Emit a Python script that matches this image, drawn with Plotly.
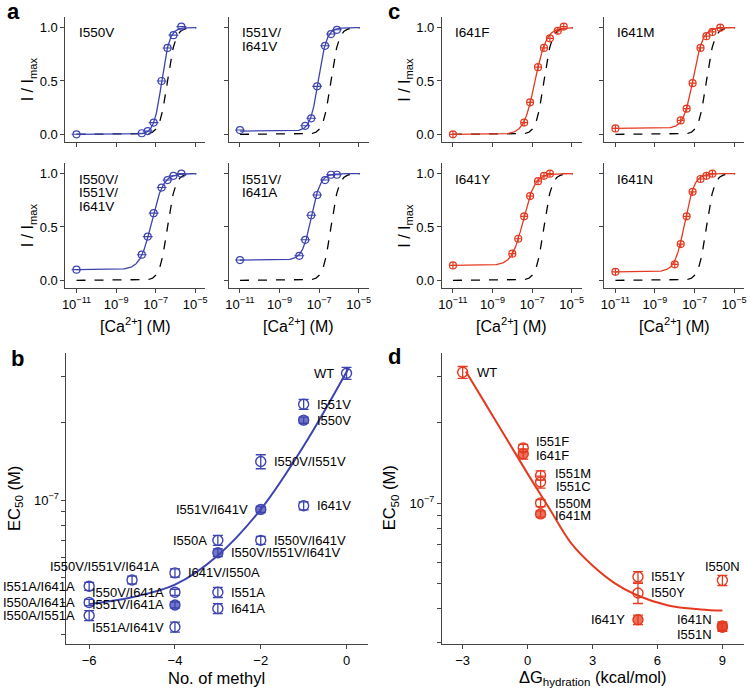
import numpy as np
import plotly.graph_objects as go

BLUE = "#3d44b0"
BLUE_FILL = "rgba(61,68,176,0.72)"
RED = "#e53a20"
RED_FILL = "rgba(229,58,32,0.72)"
AXIS = "#444444"
FONT = "Liberation Sans, Arial, sans-serif"

W, H = 750, 691

# ---- panels a / c : dose response, x = log10 [Ca2+] (M), y = I / Imax
wt_log_ec50 = -6.4
wt_hill = 2.2

a_names = [["I550V"], ["I551V/", "I641V"], ["I550V/", "I551V/", "I641V"], ["I551V/", "I641A"]]
a_logca = [
    [-11, -7.7, -7.4, -7.1, -6.7, -6.4, -6.1, -5.7],
    [-11, -7.7, -7.4, -7.1, -6.7, -6.4, -6.1],
    [-11, -7.7, -7.4, -7.1, -6.7, -6.4, -6.1, -5.7],
    [-11, -8.0, -7.7, -7.4, -7.1, -6.7, -6.4, -6.1],
]
a_current = [
    [0.0, 0.01, 0.03, 0.11, 0.50, 0.81, 0.93, 1.01],
    [0.04, 0.08, 0.15, 0.45, 0.83, 0.94, 0.98],
    [0.10, 0.24, 0.41, 0.63, 0.87, 0.94, 0.98, 1.00],
    [0.19, 0.23, 0.38, 0.61, 0.80, 0.94, 0.99, 0.99],
]
a_log_ec50 = [-6.69, -7.03, -7.2, -7.39]
a_hill = [2.2, 2.1, 1.5, 1.9]
a_base = [0.0, 0.03, 0.10, 0.19]

c_names = [["I641F"], ["I641M"], ["I641Y"], ["I641N"]]
c_logca = [
    [-11, -7.4, -7.1, -6.7, -6.4, -6.1, -5.7, -5.4],
    [-11, -7.7, -7.4, -7.1, -6.7, -6.4, -6.1, -5.7],
    [-11, -8.0, -7.7, -7.4, -7.1, -6.7, -6.4, -6.1],
    [-11, -8.0, -7.7, -7.4, -7.1, -6.7, -6.4, -6.1],
]
c_current = [
    [0.0, 0.11, 0.30, 0.63, 0.81, 0.90, 0.97, 1.01],
    [0.055, 0.13, 0.24, 0.48, 0.81, 0.92, 0.96, 1.00],
    [0.14, 0.25, 0.39, 0.60, 0.79, 0.93, 0.98, 1.00],
    [0.08, 0.15, 0.34, 0.60, 0.83, 0.95, 0.98, 1.00],
]
c_log_ec50 = [-6.85, -7.07, -7.44, -7.50]
c_hill = [1.55, 1.8, 1.5, 1.78]
c_base = [0.0, 0.055, 0.14, 0.08]

# ---- panel b : EC50 vs number of methyl groups
b_names = ["WT", "I551V", "I550V", "I550V/I551V", "I641V", "I551V/I641V", "I550V/I641V",
           "I550A", "I550V/I551V/I641V", "I641V/I550A", "I550V/I551V/I641A", "I551A/I641A",
           "I550V/I641A", "I551A", "I550A/I641A", "I551V/I641A", "I641A", "I550A/I551A",
           "I551A/I641V"]
b_methyl = [0, -1, -1, -2, -1, -2, -2, -3, -3, -4, -5, -6, -4, -3, -6, -4, -3, -6, -4]
b_ec50 = [3.1e-7, 2.35e-7, 2.04e-7, 1.41e-7, 9.5e-8, 9.2e-8, 6.98e-8, 6.98e-8, 6.25e-8,
          5.22e-8, 4.9e-8, 4.63e-8, 4.39e-8, 4.39e-8, 4.01e-8, 3.92e-8, 3.8e-8, 3.57e-8, 3.22e-8]
b_err = [1.66e-8, 1.05e-8, 5.5e-9, 8.8e-9, 3.4e-9, 2.5e-9, 2.5e-9, 3.1e-9, 2.2e-9,
         1.9e-9, 1.7e-9, 1.65e-9, 1.2e-9, 2.0e-9, 1.1e-9, 1.05e-9, 1.7e-9, 1.6e-9, 1.45e-9]
b_filled = [0, 0, 1, 0, 0, 1, 0, 0, 1, 0, 0, 0, 0, 0, 0, 1, 0, 0, 0]
b_fit_x = [-6, -5, -4, -3, -2, -1, 0.05]
b_fit_y = [3.95e-8, 4.2e-8, 4.7e-8, 6.1e-8, 9.2e-8, 1.62e-7, 3.25e-7]
# label placement: (xanchor, xshift px, yshift px)
b_label_pos = [("right", -11, 0), ("left", 11, 0), ("left", 11, 0), ("left", 11, 0),
               ("left", 11, 0), ("right", -11, 0), ("left", 11, 0), ("right", -9, 0),
               ("left", 11, 0), ("left", 11, 0), ("center", -28, 13), ("right", -12, 0),
               ("right", -9, 0), ("left", 11, 0), ("right", -12, 0), ("right", -9, 0),
               ("left", 11, 0), ("right", -12, 0), ("right", -9, 0)]

# ---- panel d : EC50 vs hydration free energy
d_names = ["WT", "I551F", "I641F", "I551M", "I551C", "I550M", "I641M", "I551Y", "I550Y",
           "I641Y", "I550N", "I641N", "I551N"]
d_dg = [-3, -0.2, -0.2, 0.6, 0.6, 0.6, 0.6, 5.1, 5.1, 5.1, 9.0, 9.0, 9.0]
d_ec50 = [3.1e-7, 1.61e-7, 1.53e-7, 1.27e-7, 1.2e-7, 1.0e-7, 9.1e-8, 5.28e-8, 4.59e-8,
          3.64e-8, 5.12e-8, 3.41e-8, 3.45e-8]
d_err = [1.6e-8, 5e-9, 6.7e-9, 5e-9, 6.3e-9, 3e-9, 2.5e-9, 2.4e-9, 4e-9, 1.5e-9, 2.3e-9,
         1.2e-9, 1.2e-9]
d_filled = [0, 0, 1, 0, 0, 0, 1, 0, 0, 1, 0, 1, 1]
d_fit_x = [-2.85, -2, -1, 0, 1, 2, 3, 4, 5, 6.5, 8, 9]
d_fit_y = [3.12e-7, 2.40e-7, 1.76e-7, 1.29e-7, 9.55e-8, 7.08e-8, 5.82e-8, 5.01e-8,
           4.52e-8, 4.12e-8, 3.98e-8, 3.94e-8]
d_label_pos = [("left", 12, 0), ("left", 11, 7), ("left", 11, -2), ("left", 12, 2),
               ("left", 13, -5), ("left", 12, 0), ("left", 12, -2), ("left", 11, 0),
               ("left", 11, 0), ("right", -11, 0), ("center", 0, 14), ("right", -8, 8),
               ("right", -8, -9)]


def hill(logx, log_ec50, n, base):
    return base + (1 - base) / (1 + 10 ** (n * (log_ec50 - logx)))


def px_x(a, b):
    return [a / W, b / W]


def px_y(top, bottom):
    return [1 - bottom / H, 1 - top / H]


def paper_text(text, x, y, size, angle=0):
    return dict(x=x / W, y=1 - y / H, xref="paper", yref="paper", text=text,
                textangle=angle, showarrow=False, xanchor="center", yanchor="middle",
                font=dict(family=FONT, size=size, color="black"))


fig = go.Figure()
annotations = []
layout = {}

tick_font = dict(family=FONT, size=13, color="black")
axis_style = dict(showline=True, linecolor=AXIS, linewidth=1, ticks="outside", ticklen=4,
                  tickcolor=AXIS, showgrid=False, zeroline=False, tickfont=tick_font)

cols = [(62, 203), (227, 368), (442, 583), (606, 747)]
rows = [(17, 142), (163, 288)]

grid = np.linspace(-11, -4.95, 300)
groups = [
    (a_names, a_logca, a_current, a_log_ec50, a_hill, a_base, BLUE, 0),
    (c_names, c_logca, c_current, c_log_ec50, c_hill, c_base, RED, 2),
]
k = 0
for names, logca, cur, lec, nh, base, col, col0 in groups:
    for i in range(4):
        k += 1
        r, cc = i // 2, col0 + i % 2
        xa = "x" if k == 1 else f"x{k}"
        ya = "y" if k == 1 else f"y{k}"
        fig.add_trace(go.Scatter(x=grid, y=hill(grid, wt_log_ec50, wt_hill, 0), mode="lines",
                                 line=dict(color="black", dash="dash", width=1.3),
                                 xaxis=xa, yaxis=ya))
        fig.add_trace(go.Scatter(x=grid, y=hill(grid, lec[i], nh[i], base[i]), mode="lines",
                                 line=dict(color=col, width=1.3), xaxis=xa, yaxis=ya))
        sym = "circle-open" if col == BLUE else "circle-cross-open"
        fig.add_trace(go.Scatter(x=logca[i], y=cur[i], mode="markers",
                                 marker=dict(symbol=sym, size=7, color=col,
                                             line=dict(color=col, width=1.2)),
                                 xaxis=xa, yaxis=ya))
        if col == BLUE:
            fig.add_trace(go.Scatter(x=logca[i], y=cur[i], mode="markers",
                                     marker=dict(symbol="line-ew", size=7,
                                                 line=dict(color=col, width=1.1)),
                                     xaxis=xa, yaxis=ya))
        bottom = r == 1
        left = cc in (0, 2)
        layout["xaxis" if k == 1 else f"xaxis{k}"] = dict(
            axis_style, domain=px_x(*cols[cc]), anchor=ya, range=[-11.56, -4.5],
            tickvals=[-11, -9, -7, -5],
            ticktext=["10<sup>−11</sup>", "10<sup>−9</sup>", "10<sup>−7</sup>", "10<sup>−5</sup>"]
            if bottom else ["", "", "", ""])
        layout["yaxis" if k == 1 else f"yaxis{k}"] = dict(
            axis_style, domain=px_y(*rows[r]), anchor=xa, range=[-0.072, 1.1],
            tickvals=[0, 0.5, 1.0],
            ticktext=["0.0", "0.5", "1.0"] if left else ["", "", ""])
        for j, line in enumerate(names[i]):
            annotations.append(dict(x=-11, y=0.95 - 0.13 * j, xref=xa, yref=ya, text=line,
                                    showarrow=False, xanchor="left", yanchor="middle",
                                    font=dict(family=FONT, size=13.5, color="black")))
        if left:
            annotations.append(paper_text("I / I<sub>max</sub>", cols[cc][0] - 37,
                                          (rows[r][0] + rows[r][1]) / 2, 16, -90))
        if bottom:
            annotations.append(paper_text("[Ca<sup>2+</sup>] (M)", (cols[cc][0] + cols[cc][1]) / 2,
                                          325, 16))

# ---- scatter panels
log_ticks = [2e-8, 3e-8, 4e-8, 5e-8, 6e-8, 7e-8, 8e-8, 9e-8, 1e-7, 2e-7, 3e-7]
log_text = ["10<sup>−7</sup>" if v == 1e-7 else "" for v in log_ticks]

scatter_panels = [
    (9, b_methyl, b_ec50, b_err, b_filled, b_names, b_label_pos, b_fit_x, b_fit_y,
     BLUE, BLUE_FILL, (63, 367), [-6.53, 0.49], [-6, -4, -2, 0], ["−6", "−4", "−2", "0"],
     [-7.558, -6.430], "No. of methyl"),
    (10, d_dg, d_ec50, d_err, d_filled, d_names, d_label_pos, d_fit_x, d_fit_y,
     RED, RED_FILL, (442, 747), [-3.96, 10.0], [-3, 0, 3, 6, 9], ["−3", "0", "3", "6", "9"],
     [-7.530, -6.436], "ΔG<sub>hydration</sub> (kcal/mol)"),
]
for (k, xs, ys, es, fl, names, pos, fx, fy, col, fill, xpix, xr, xt, xtt, yr,
     xtitle) in scatter_panels:
    xa, ya = f"x{k}", f"y{k}"
    fig.add_trace(go.Scatter(x=fx, y=fy, mode="lines", line=dict(color=col, width=2, shape="spline"),
                             xaxis=xa, yaxis=ya))
    fig.add_trace(go.Scatter(
        x=xs, y=ys, mode="markers", xaxis=xa, yaxis=ya,
        error_y=dict(type="data", array=es, color=col, thickness=1.3, width=5),
        marker=dict(size=10, symbol="circle",
                    color=[fill if f else "rgba(255,255,255,0)" for f in fl],
                    line=dict(color=col, width=1.4))))
    layout[f"xaxis{k}"] = dict(axis_style, domain=px_x(*xpix), anchor=ya, range=xr,
                               tickvals=xt, ticktext=xtt)
    layout[f"yaxis{k}"] = dict(axis_style, domain=px_y(353, 644), anchor=xa, type="log",
                               range=yr, tickvals=log_ticks, ticktext=log_text)
    for name, x, y, (xanc, xsh, ysh) in zip(names, xs, ys, pos):
        annotations.append(dict(x=x, y=np.log10(y), xref=xa, yref=ya, text=name,
                                showarrow=False, xanchor=xanc, yanchor="middle",
                                xshift=xsh, yshift=ysh,
                                font=dict(family=FONT, size=13, color="black")))
    annotations.append(paper_text(xtitle, (xpix[0] + xpix[1]) / 2, 678, 16.5))
    annotations.append(paper_text("EC<sub>50</sub> (M)", xpix[0] - 52, 498, 16.5, -90))

for letter, x, y in [("a", 10, 11), ("b", 14, 358), ("c", 394, 11), ("d", 394, 356)]:
    annotations.append(paper_text(f"<b>{letter}</b>", x, y, 22))

fig.update_layout(width=W, height=H, margin=dict(l=0, r=0, t=0, b=0), showlegend=False,
                  plot_bgcolor="white", paper_bgcolor="white", annotations=annotations, **layout)

fig.write_html("out.html", config={"displayModeBar": False},
               post_script="document.body.style.margin='0';")
